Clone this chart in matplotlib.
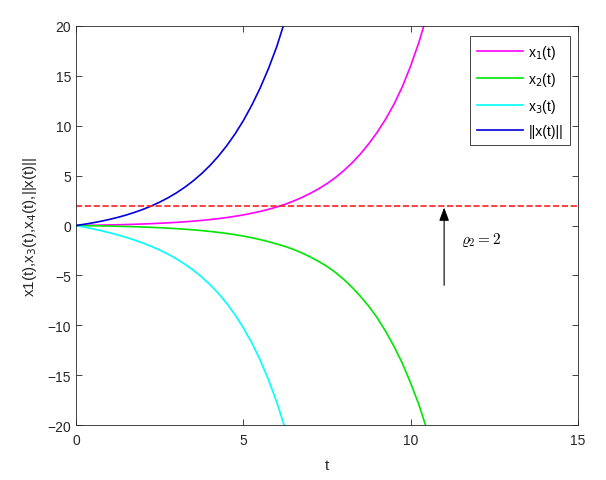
import numpy as np
import matplotlib.pyplot as plt

plt.rcParams['font.family'] = ['Liberation Sans', 'DejaVu Sans']

# valores (passo de 0.25 em t)
t = np.arange(0, 10.51, 0.25)

x1 = [0, 0.011, 0.024, 0.039, 0.056, 0.076, 0.098, 0.123, 0.152, 0.185, 0.223, 0.266, 0.315,
      0.371, 0.435, 0.508, 0.592, 0.687, 0.796, 0.92, 1.061, 1.223, 1.408, 1.619,
      1.86, 2.13, 2.45, 2.81, 3.22, 3.68, 4.2, 4.8, 5.5, 6.28, 7.18, 8.2, 9.35, 10.65,
      12.15, 13.9, 16.0, 18.4, 21.2]

x2 = [0, -0.011, -0.024, -0.039, -0.056, -0.076, -0.098, -0.123, -0.152, -0.185, -0.223,
      -0.266, -0.315, -0.371, -0.435, -0.508, -0.592, -0.687, -0.796, -0.92, -1.061,
      -1.223, -1.408, -1.619, -1.85, -2.1, -2.4, -2.75, -3.15, -3.6, -4.1, -4.7, -5.4,
      -6.2, -7.1, -8.1, -9.25, -10.6, -12.1, -13.8, -15.8, -18.0, -20.6]

x3 = [0, -0.161, -0.334, -0.522, -0.725, -0.947, -1.191, -1.461, -1.759, -2.091, -2.462,
      -2.877, -3.344, -3.872, -4.469, -5.146, -5.916, -6.792, -7.794, -8.937, -10.25,
      -11.75, -13.47, -15.45, -17.72, -20.34, -23.35]

xn = [0, 0.125, 0.267, 0.428, 0.610, 0.816, 1.050, 1.315, 1.615, 1.955, 2.341, 2.778,
      3.273, 3.834, 4.469, 5.190, 6.006, 6.931, 7.979, 9.166, 10.51, 12.04, 13.76,
      15.72, 17.94, 20.6, 23.3]

rho = 2

fig = plt.figure(figsize=(6.06, 4.81), dpi=100)
ax = fig.add_axes([0.1254, 0.1143, 0.8284, 0.8296])

ax.plot(t[:len(x1)], x1, color='#ff00ff', lw=1.2, label='x$_1$(t)')
ax.plot(t[:len(x2)], x2, color='#00e600', lw=1.2, label='x$_2$(t)')
ax.plot(t[:len(x3)], x3, color='#00ffff', lw=1.2, label='x$_3$(t)')
ax.plot(t[:len(xn)], xn, color='#0000e0', lw=1.2, label='||x(t)||')
ax.plot([0, 15], [rho, rho], color='#ff2020', lw=1.2, ls='--')

ax.annotate('', xy=(11, 1.8), xytext=(11, -6),
            arrowprops=dict(arrowstyle='-|>,head_length=0.8,head_width=0.3',
                            color='black', lw=0.8, shrinkA=0, shrinkB=0))
ax.text(11.5, -1.4, r'$\varrho_2 = 2$', fontsize=11, math_fontfamily='cm',
        ha='left', va='center')

ax.set_xlim(0, 15)
ax.set_ylim(-20, 20)
ax.set_xticks([0, 5, 10, 15])
ax.set_yticks(np.arange(-20, 21, 5))
ax.tick_params(direction='in', top=True, right=True, labelsize=10, length=4,
               colors='#262626', width=0.6)
ax.tick_params(axis='x', pad=6)
for s in ax.spines.values():
    s.set_color('#262626')
    s.set_linewidth(0.6)

ax.set_xlabel('t', fontsize=11, color='#262626', labelpad=8)
ax.set_ylabel('x1(t),x$_3$(t),x$_4$(t),||x(t)||', fontsize=11, color='#262626', labelpad=6)

leg = ax.legend(loc='upper right', bbox_to_anchor=(0.984, 0.975), borderaxespad=0,
                fontsize=10, fancybox=False, edgecolor='#262626', framealpha=1,
                handlelength=3.3, handletextpad=0.4, borderpad=0.5, labelspacing=0.65)
leg.get_frame().set_linewidth(0.6)

plt.savefig('out.png', dpi=100)
